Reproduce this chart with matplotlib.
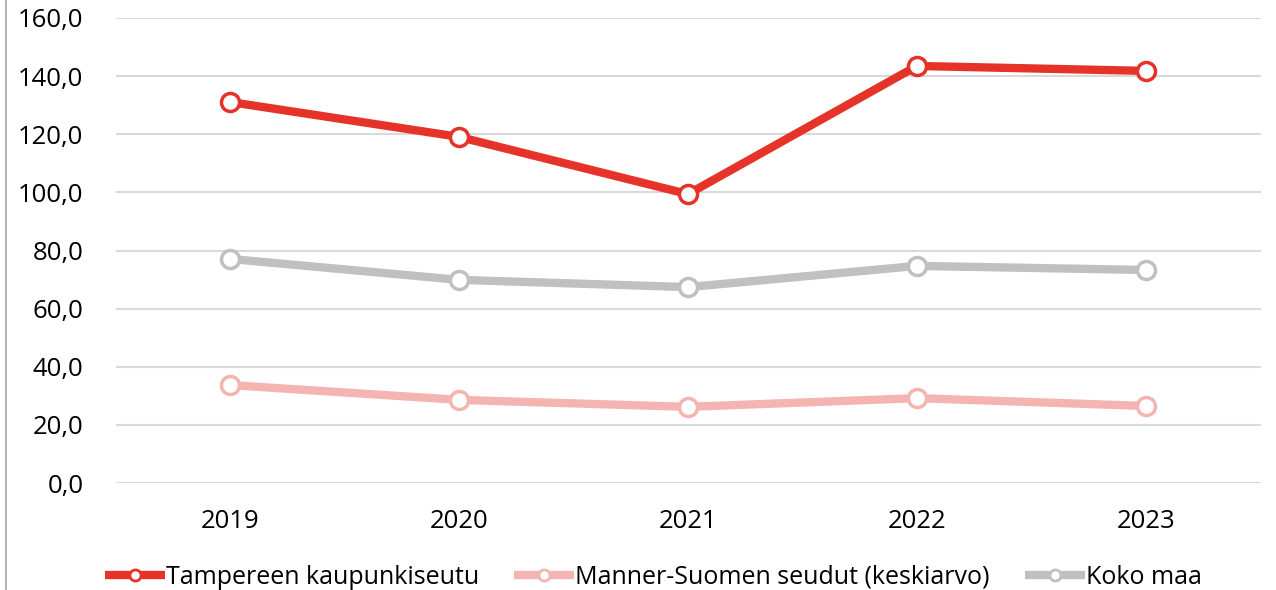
import matplotlib
matplotlib.use("Agg")
import matplotlib.pyplot as plt
from matplotlib.ticker import FuncFormatter

years = ["2019", "2020", "2021", "2022", "2023"]
tampere = [131.1, 119.1, 99.4, 143.5, 141.8]
manner = [33.7, 28.6, 26.2, 29.2, 26.5]
koko = [77.1, 69.9, 67.4, 74.7, 73.3]

series_names = ["Tampereen kaupunkiseutu", "Manner-Suomen seudut (keskiarvo)", "Koko maa"]
colors = ["#e5332a", "#f4b5b2", "#c0c0c0"]

plt.rcParams['font.family'] = ['Open Sans', 'DejaVu Sans']

fig = plt.figure(figsize=(12.76, 5.90), dpi=100)
ax = fig.add_axes([115.5/1276, 1-483/590, (1260.5-115.5)/1276, (483-18)/590])

x = list(range(len(years)))
for vals, name, c in zip([tampere, manner, koko], series_names, colors):
    ax.plot(x, vals, color=c, lw=6, marker='o', ms=13, mfc='white', mec=c, mew=2.5,
            label=name, solid_capstyle='butt', zorder=3)

ax.set_xlim(-0.5, 4.5)
ax.set_ylim(0, 160)
ax.set_yticks(range(0, 161, 20))
ax.yaxis.set_major_formatter(FuncFormatter(lambda v, p: f"{v:.1f}".replace('.', ',')))
ax.set_xticks(x)
ax.set_xticklabels(years)
ax.grid(axis='y', color='#d9d9d9', lw=1.5)
ax.set_axisbelow(True)
for s in ax.spines.values():
    s.set_visible(False)
ax.tick_params(axis='both', length=0, labelsize=18.5, colors='black')
ax.tick_params(axis='y', pad=23)
ax.tick_params(axis='x', pad=19)

leg = fig.legend(loc='center', bbox_to_anchor=(0.512, 1-577/590), ncol=3, frameon=False,
                 fontsize=18, handlelength=2.4, handletextpad=0.05, columnspacing=1.4)
for ln in leg.get_lines():
    ln.set_markersize(8)
    ln.set_markeredgewidth(2)

fig.add_artist(plt.Line2D([6/1276, 6/1276], [0, 1], color='#a6a6a6', lw=1.2, transform=fig.transFigure))

fig.savefig("out.png", dpi=100)
